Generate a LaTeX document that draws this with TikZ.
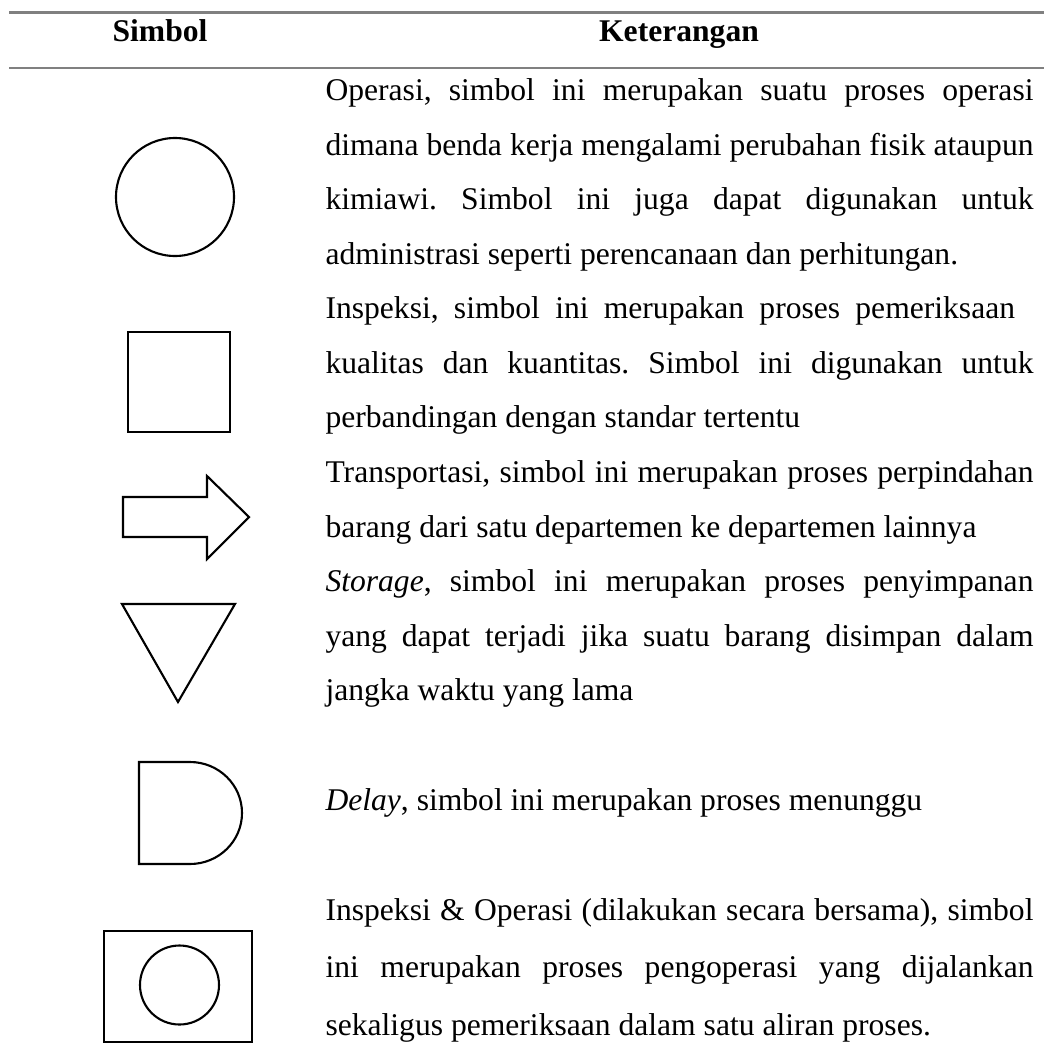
\documentclass[tikz,border=0pt]{standalone}
\usepackage{fontspec}
\setmainfont{Liberation Serif}
\hyphenpenalty=10000
\exhyphenpenalty=10000
\frenchspacing

\begin{document}
\begin{tikzpicture}[x=0.3798pt, y=0.3798pt,
  rule line/.style={draw=black!50, line width=0.8pt},
  symbol line/.style={draw, line width=0.8pt, line join=miter},
  head text/.style={anchor=base, inner sep=0pt, font=\fontsize{12}{20.7}\selectfont\bfseries},
  desc text/.style={anchor=base west, inner sep=0pt, text width=268.9pt, align=justify,
    font=\fontsize{12}{20.7}\selectfont}]
  \useasboundingbox (0,0) rectangle (1044,-1054);

  % garis tabel
  \draw[rule line] (9,-12.5) -- (1044,-12.5);
  \draw[rule line] (9,-68) -- (1044,-68);

  \node[head text] (hsimbol) at (160,-41.7) {Simbol};
  \node[head text] (hket) at (679,-41.7) {Keterangan};

  % simbol
  \draw[symbol line] (175,-197) circle[radius=59];
  \draw[symbol line] (128,-332) rectangle (230,-432);
  \draw[symbol line] (123,-497) -- (207,-497) -- (207,-476) -- (249,-517)
    -- (207,-559) -- (207,-537) -- (123,-537) -- cycle;
  \draw[symbol line] (122,-604) -- (235,-604) -- (178,-702) -- cycle;
  \draw[symbol line] (139,-762) -- (190,-762)
    arc[start angle=90, end angle=-90, x radius=52, y radius=51] -- (139,-864) -- cycle;
  \draw[symbol line] (104,-931) rectangle (252,-1042);
  \draw[symbol line] (179.5,-985) circle[radius=39.5];

  % keterangan
  \node[desc text] (ops) at (325,-100.5) {Operasi, simbol ini merupakan suatu proses operasi\linebreak
    dimana benda kerja mengalami perubahan fisik ataupun\linebreak
    kimiawi. Simbol ini juga dapat digunakan untuk\linebreak
    administrasi seperti perencanaan dan perhitungan.};
  \node[desc text] (insp) at (325,-318.9) {Inspeksi, simbol ini merupakan proses pemeriksaan\hspace*{7pt}\linebreak
    kualitas dan kuantitas. Simbol ini digunakan untuk\linebreak
    perbandingan dengan standar tertentu};
  \node[desc text] (trans) at (325,-482.7) {Transportasi, simbol ini merupakan proses perpindahan\linebreak
    barang dari satu departemen ke departemen lainnya};
  \node[desc text] (stor) at (325,-591.9) {\textit{Storage}, simbol ini merupakan proses penyimpanan\linebreak
    yang dapat terjadi jika suatu barang disimpan dalam\linebreak
    jangka waktu yang lama};
  \node[desc text] (dly) at (325,-810.5) {\textit{Delay}, simbol ini merupakan proses menunggu};
  \node[desc text, font=\fontsize{12}{21.8}\selectfont] (inop) at (325,-920.5) {Inspeksi \& Operasi (dilakukan secara bersama), simbol\linebreak
    ini merupakan proses pengoperasi yang dijalankan\linebreak
    sekaligus pemeriksaan dalam satu aliran proses.};
\end{tikzpicture}
\end{document}
